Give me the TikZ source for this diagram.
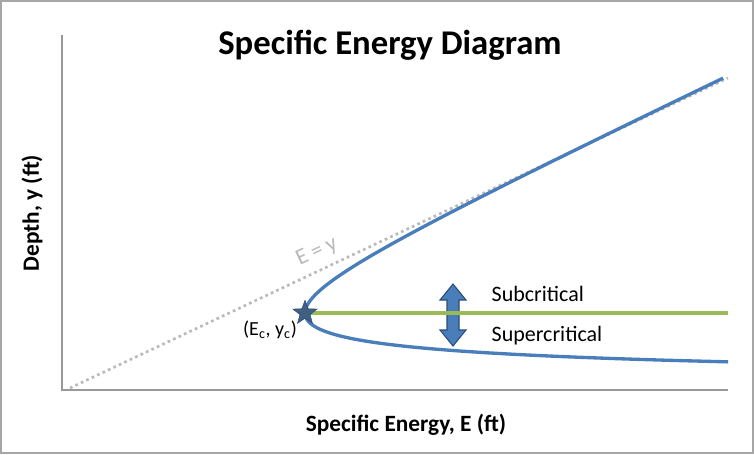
\documentclass[tikz,border=0pt]{standalone}
\usepackage{fontspec}
\setmainfont{Carlito}
\usetikzlibrary{shapes.geometric}
\definecolor{cblue}{HTML}{4A7EBB}
\definecolor{cdark}{HTML}{2C4D75}
\definecolor{cgreen}{HTML}{9BBB59}
\tikzset{lbl/.style={font=\fontsize{16.5}{19}\selectfont, anchor=west}}
\begin{document}
\begin{tikzpicture}[x=0.75pt,y=-0.75pt]
\useasboundingbox (0,0) rectangle (754,454);
\draw[gray!70, line width=0.8pt] (1,1) rectangle (753,453);
\node[font=\bfseries\fontsize{26}{30}\selectfont] (title) at (390,45) {Specific Energy Diagram};
\coordinate (o) at (62,390);
\coordinate (yt) at (62,35);
\coordinate (xe) at (728,390);
\draw[gray!80, line width=1pt] (yt) -- (o) -- (xe);
\node[font=\bfseries\fontsize{17.5}{20}\selectfont, rotate=90] (ylab) at (32,213) {Depth, y (ft)};
\node[font=\bfseries\fontsize{17.5}{20}\selectfont] (xlab) at (406,425) {Specific Energy, E (ft)};
\coordinate (d1) at (70,388);
\coordinate (d2) at (728,78);
\draw[gray!55, line width=2pt, dash pattern=on 2pt off 2.5pt] (d1) -- (d2);
\node[gray!55, font=\fontsize{17}{19}\selectfont, rotate=25, inner sep=0pt] (ey) at (317,252) {E = y};
\coordinate (c) at (305,313);
\coordinate (ge) at (728,313);
\draw[cgreen, line width=2.5pt] (c) -- (ge);
\begin{scope}
\clip (62,30) rectangle (728,400);
\draw[cblue, line width=2.5pt] plot[domain=0.36:4.05, samples=150, smooth] ({62+162*(\x+0.5/(\x*\x))},{390-77*\x});
\end{scope}
\node[star, star points=5, star point ratio=2.4, fill=cdark!90, draw=cdark, inner sep=2.8pt] (star) at (c) {};
\node[font=\fontsize{15}{17}\selectfont] (clab) at (270,330) {(E\textsubscript{c}, y\textsubscript{c})};
\draw[cdark, fill=cblue, line width=0.8pt] (453,284) -- (466,300) -- (459,300) -- (459,330) -- (466,330) -- (453,346) -- (440,330) -- (447,330) -- (447,300) -- (440,300) -- cycle;
\draw[cgreen, line width=2.5pt] (446,313) -- (460,313);
\node[lbl] (sub) at (487,294) {Subcritical};
\node[lbl] (sup) at (487,336) {Supercritical};
\end{tikzpicture}
\end{document}
